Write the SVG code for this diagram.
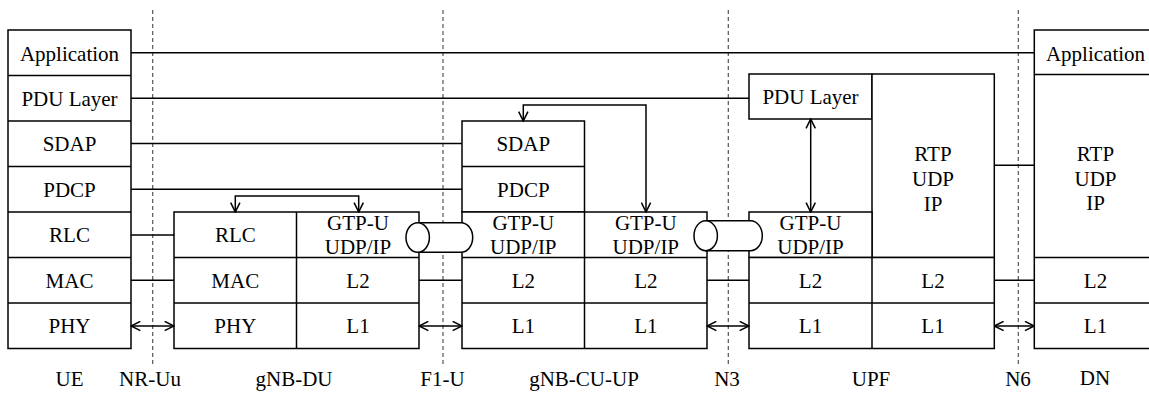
<svg xmlns="http://www.w3.org/2000/svg" width="1149" height="394" viewBox="0 0 1149 394" font-family="Liberation Serif, DejaVu Serif, serif">
<style>
.box{fill:#fff;stroke:#000;stroke-width:1.5}
.ln{fill:none;stroke:#000;stroke-width:1.5}
.arr{fill:none;stroke:#000;stroke-width:1.5;marker-start:url(#ah);marker-end:url(#ah)}
.dash{stroke:#555;stroke-width:1.2;stroke-dasharray:4 3;fill:none}
text{font-size:21px;fill:#000;text-anchor:middle}
.tube{fill:#fff;stroke:#000;stroke-width:1.5}
</style>
<defs>
<marker id="ah" viewBox="0 0 10 10" markerUnits="userSpaceOnUse" markerWidth="11" markerHeight="11" refX="9.5" refY="5" orient="auto-start-reverse">
<path d="M1,0.8 L9.5,5 L1,9.2" fill="none" stroke="#000" stroke-width="1.4"/>
</marker>
</defs>
<rect width="1149" height="394" fill="#fff"/>
<g id="interfaces">
<line class="dash" x1="152.7" y1="10" x2="152.7" y2="366"/>
<line class="dash" x1="443" y1="10" x2="443" y2="366"/>
<line class="dash" x1="728.3" y1="10" x2="728.3" y2="366"/>
<line class="dash" x1="1018.3" y1="10" x2="1018.3" y2="366"/>
</g>
<g id="UE">
<rect class="box" x="8" y="30" width="123" height="318.5"/>
<path class="ln" d="M8,75.5H131M8,121H131M8,166.5H131M8,212H131M8,257.5H131M8,303H131"/>
<text x="69.5" y="60.5">Application</text>
<text x="69.5" y="106">PDU Layer</text>
<text x="69.5" y="151.3">SDAP</text>
<text x="69.5" y="196.8">PDCP</text>
<text x="69.5" y="242.3">RLC</text>
<text x="69.5" y="287.8">MAC</text>
<text x="69.5" y="333.3">PHY</text>
</g>
<g id="gNB-DU">
<rect class="box" x="174" y="212" width="245" height="136.5"/>
<path class="ln" d="M174,257.5H419M174,303H419M296.5,212V348.5"/>
<text x="235.3" y="242.3">RLC</text>
<text x="358" y="230">GTP-U</text>
<text x="358" y="254">UDP/IP</text>
<text x="235.3" y="287.8">MAC</text>
<text x="358" y="287.8">L2</text>
<text x="235.3" y="333.3">PHY</text>
<text x="358" y="333.3">L1</text>
</g>
<g id="gNB-CU-UP">
<rect class="box" x="462" y="121" width="122.5" height="91"/>
<path class="ln" d="M462,166.5H584.5"/>
<rect class="box" x="462" y="212" width="245" height="136.5"/>
<path class="ln" d="M462,257.5H707M462,303H707M584.5,212V348.5"/>
<text x="523.3" y="151.3">SDAP</text>
<text x="523.3" y="196.8">PDCP</text>
<text x="523.3" y="230">GTP-U</text>
<text x="523.3" y="254">UDP/IP</text>
<text x="645.8" y="230">GTP-U</text>
<text x="645.8" y="254">UDP/IP</text>
<text x="523.3" y="287.8">L2</text>
<text x="645.8" y="287.8">L2</text>
<text x="523.3" y="333.3">L1</text>
<text x="645.8" y="333.3">L1</text>
</g>
<g id="UPF">
<rect class="box" x="749" y="74" width="123" height="45"/>
<rect class="box" x="872" y="74" width="122.3" height="183.5"/>
<rect class="box" x="749" y="212" width="123" height="45.5"/>
<rect class="box" x="749" y="257.5" width="245.3" height="91"/>
<path class="ln" d="M749,303H994.3M872,257.5V348.5"/>
<text x="810.5" y="104.3">PDU Layer</text>
<text x="933" y="161">RTP</text>
<text x="933" y="186">UDP</text>
<text x="933" y="210.8">IP</text>
<text x="810.5" y="230">GTP-U</text>
<text x="810.5" y="254">UDP/IP</text>
<text x="810.5" y="287.8">L2</text>
<text x="933" y="287.8">L2</text>
<text x="810.5" y="333.3">L1</text>
<text x="933" y="333.3">L1</text>
</g>
<g id="DN">
<rect class="box" x="1034.3" y="30" width="122" height="318.5"/>
<path class="ln" d="M1034.3,74.5H1156.3M1034.3,257.5H1156.3M1034.3,303H1156.3"/>
<text x="1095.5" y="60.5">Application</text>
<text x="1095.5" y="160.5">RTP</text>
<text x="1095.5" y="185.7">UDP</text>
<text x="1095.5" y="210.3">IP</text>
<text x="1095.5" y="287.8">L2</text>
<text x="1095.5" y="333.3">L1</text>
</g>
<g id="connectors">
<path class="ln" d="M131,52.7H1034.3M131,98.2H749M131,143.6H462M131,189.2H462M131,235H174M131,280.3H174M419,280.3H462M707,280.3H749M994.3,280.3H1034.3M994.3,165.3H1034.3"/>
<path class="arr" d="M131,326H174"/>
<path class="arr" d="M419,326H462"/>
<path class="arr" d="M707,326H749"/>
<path class="arr" d="M994.3,326H1034.3"/>
<path class="arr" d="M235.3,212V196H358.7V212"/>
<path class="arr" d="M523.3,121V105H646V212"/>
<path class="arr" d="M810.7,119V212"/>
</g>
<g id="tunnels">
<path class="tube" d="M417.7,222.7H461A11.7,14.8 0 0 1 461,252.3H417.7Z"/>
<ellipse class="tube" cx="417.7" cy="237.5" rx="11.7" ry="14.8"/>
<path class="tube" d="M705.7,220.7H750.6A11.7,15 0 0 1 750.6,250.7H705.7Z"/>
<ellipse class="tube" cx="705.7" cy="235.7" rx="11.7" ry="15"/>
</g>
<g id="labels">
<text x="69.5" y="385.5">UE</text>
<text x="150" y="385.5">NR-Uu</text>
<text x="294" y="385.5">gNB-DU</text>
<text x="442.5" y="385.5">F1-U</text>
<text x="584" y="385.5">gNB-CU-UP</text>
<text x="727" y="385.5">N3</text>
<text x="871" y="385.5">UPF</text>
<text x="1018" y="385.5">N6</text>
<text x="1095" y="384.5">DN</text>
</g>
</svg>
